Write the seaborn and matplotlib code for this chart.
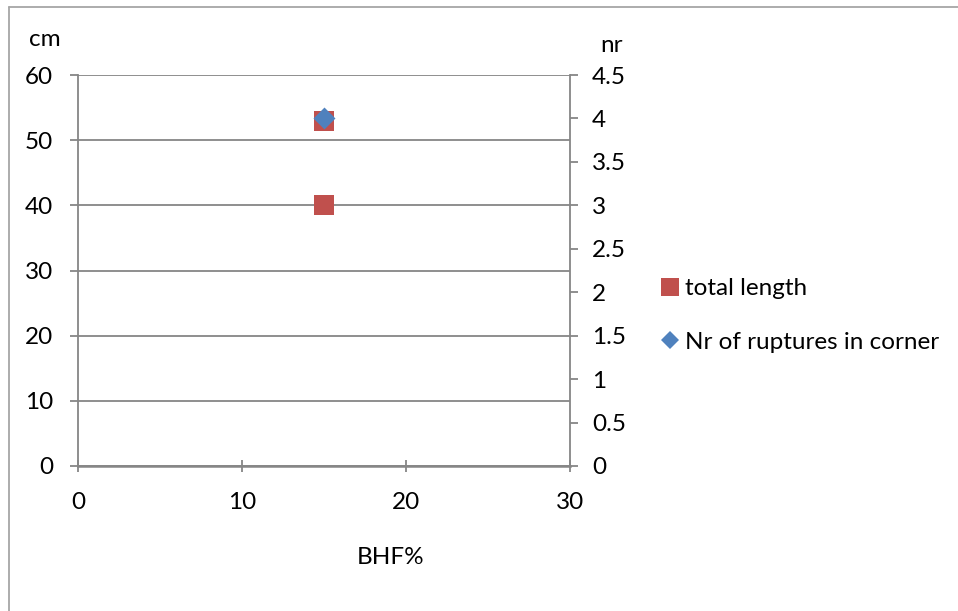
import matplotlib
matplotlib.use("Agg")
import matplotlib.pyplot as plt
from matplotlib.lines import Line2D
from matplotlib.ticker import FuncFormatter, MultipleLocator
import seaborn as sns
import pandas as pd

# BHF% settings and measurements
bhf_length = [15, 15]
total_length = [40, 53]          # cm
bhf_ruptures = [15]
nr_ruptures = [4]                # count

x_ticks = [0, 10, 20, 30]
cm_limits = (0, 60)
nr_limits = (0, 4.5)

red = "#C0504D"
blue = "#4F81BD"
gray = "#868686"
frame_gray = "#A6A6A6"

sns.set_style("white")
plt.rcParams["font.family"] = ["Lato", "DejaVu Sans"]
plt.rcParams["text.color"] = "black"
fs = 17.5

fig = plt.figure(figsize=(9.58, 6.11), dpi=100)
ax = fig.add_axes([78 / 958, 145 / 611, 492 / 958, 391 / 611])
ax2 = ax.twinx()

len_df = pd.DataFrame({"BHF%": bhf_length, "cm": total_length})
rup_df = pd.DataFrame({"BHF%": bhf_ruptures, "nr": nr_ruptures})

sns.scatterplot(data=len_df, x="BHF%", y="cm", ax=ax, marker="s", s=207,
                color=red, linewidth=0, legend=False, zorder=3, clip_on=False)
sns.scatterplot(data=rup_df, x="BHF%", y="nr", ax=ax2, marker="D", s=125,
                color=blue, linewidth=0, legend=False, zorder=3, clip_on=False)

ax.set_xlim(0, 30)
ax.set_ylim(*cm_limits)
ax2.set_ylim(*nr_limits)
ax.set_xticks(x_ticks)
ax.yaxis.set_major_locator(MultipleLocator(10))
ax2.yaxis.set_major_locator(MultipleLocator(0.5))
ax2.yaxis.set_major_formatter(FuncFormatter(lambda v, p: f"{v:g}"))

ax.grid(axis="y", color=gray, linewidth=1.3)
ax.grid(axis="x", visible=False)
ax2.grid(False)
ax.set_xlabel("")
ax.set_ylabel("")
ax2.set_ylabel("")

for a in (ax, ax2):
    for side in ("top", "right", "left", "bottom"):
        a.spines[side].set_visible(False)
ax.spines["left"].set_visible(True)
ax.spines["bottom"].set_visible(True)
ax2.spines["right"].set_visible(True)
ax.spines["left"].set_color(gray)
ax.spines["left"].set_linewidth(1.3)
ax.spines["bottom"].set_color(gray)
ax.spines["bottom"].set_linewidth(1.8)
ax2.spines["right"].set_color(gray)
ax2.spines["right"].set_linewidth(1.3)

ax.tick_params(axis="y", direction="out", length=5.8, width=1.3, color=gray,
               pad=12, labelsize=fs, left=True, labelcolor="black")
ax.tick_params(axis="x", direction="inout", length=8, width=1.3, color=gray,
               pad=15, labelsize=fs, bottom=True, labelcolor="black")
ax2.tick_params(axis="y", direction="out", length=5.8, width=1.3, color=gray,
                pad=10, labelsize=fs, right=True, labelcolor="black")

fig.text(45 / 958, 1 - 39 / 611, "cm", fontsize=fs, ha="center", va="center")
fig.text(612 / 958, 1 - 45 / 611, "nr", fontsize=fs, ha="center", va="center")
fig.text(391 / 958, 1 - 558 / 611, "BHF%", fontsize=fs, ha="center", va="center")

handles = [
    Line2D([], [], linestyle="none", marker="s", markersize=12.5,
           markerfacecolor=red, markeredgewidth=0, label="total length"),
    Line2D([], [], linestyle="none", marker="D", markersize=8.7,
           markerfacecolor=blue, markeredgewidth=0, label="Nr of ruptures in corner"),
]
fig.legend(handles=handles, loc="center left", bbox_to_anchor=(658 / 958, 1 - 315.5 / 611),
           frameon=False, fontsize=fs, handlelength=1.0, handletextpad=0.12,
           labelspacing=1.35, borderpad=0, borderaxespad=0)

# outer chart frame: left and top edges
fig.add_artist(Line2D([9 / 958, 9 / 958], [0, 1 - 7 / 611], transform=fig.transFigure,
                      color=frame_gray, linewidth=1.3))
fig.add_artist(Line2D([9 / 958, 1], [1 - 7 / 611, 1 - 7 / 611], transform=fig.transFigure,
                      color=frame_gray, linewidth=1.3))

fig.savefig("out.png", dpi=100)
